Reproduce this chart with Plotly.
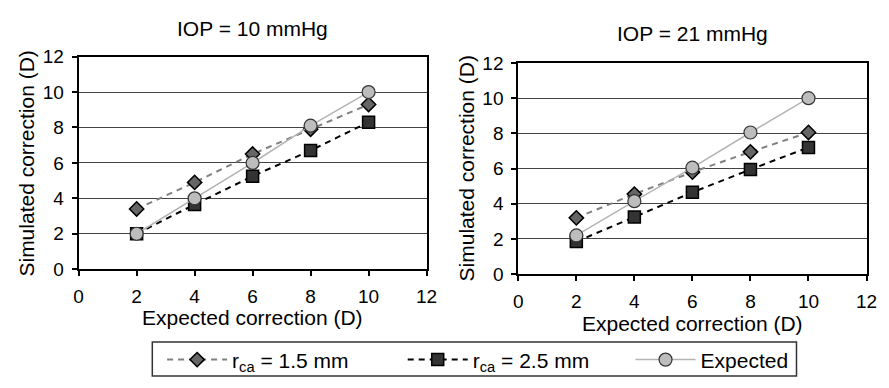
import plotly.graph_objects as go

W, H = 889, 388

expected_x = [2, 4, 6, 8, 10]
left_r15 = [3.4, 4.9, 6.5, 7.9, 9.3]
left_r25 = [2.0, 3.65, 5.25, 6.7, 8.3]
left_exp = [2.0, 4.0, 6.0, 8.1, 10.0]
right_r15 = [3.2, 4.55, 5.8, 6.95, 8.05]
right_r25 = [1.85, 3.25, 4.65, 5.95, 7.2]
right_exp = [2.2, 4.15, 6.05, 8.05, 10.0]
tick_vals = [0, 2, 4, 6, 8, 10, 12]
titles = ["IOP = 10 mmHg", "IOP = 21 mmHg"]
names = ["r<sub>ca</sub> = 1.5 mm", "r<sub>ca</sub> = 2.5 mm", "Expected"]

FONT = "Liberation Sans, Arial, Helvetica, sans-serif"
FS_TICK = 19
FS_TEXT = 21

def px_x(p):
    return p / W

def px_y(p):
    return 1 - p / H

fig = go.Figure()

styles = [
    dict(line=dict(color="#808080", width=2, dash="6px,5px"),
         marker=dict(symbol="diamond", size=11, color="#666666",
                     line=dict(color="black", width=1.5))),
    dict(line=dict(color="black", width=2, dash="6px,5px"),
         marker=dict(symbol="square", size=12, color="#333333",
                     line=dict(color="black", width=1.5))),
    dict(line=dict(color="#b4b4b4", width=1.5),
         marker=dict(symbol="circle", size=13, color="#bdbdbd",
                     line=dict(color="#333333", width=1.2))),
]
legend_ids = ["legend", "legend2", "legend3"]

panels = [(left_r15, left_r25, left_exp), (right_r15, right_r25, right_exp)]
for pi, series in enumerate(panels):
    xa = "x" if pi == 0 else "x2"
    ya = "y" if pi == 0 else "y2"
    for si, ys in enumerate(series):
        fig.add_trace(go.Scatter(
            x=expected_x, y=ys, mode="lines+markers", name=names[si],
            showlegend=(pi == 0), legend=legend_ids[si],
            xaxis=xa, yaxis=ya, **styles[si]))

axis_common = dict(
    range=[0, 12], tickvals=tick_vals, ticks="outside", ticklen=5,
    tickwidth=1.5, tickcolor="black", showline=True, linecolor="black",
    linewidth=2, mirror=True, zeroline=False, ticklabelstandoff=4,
    tickfont=dict(family=FONT, size=FS_TICK, color="black"),
)

# plot rectangles (pixels)
L = dict(x0=75, x1=429.3, y0=49.3, y1=274)
R = dict(x0=522.7, x1=877.3, y0=56, y1=279.3)

def leg(xpix):
    return dict(
        orientation="h", x=px_x(xpix), y=px_y(370), xanchor="left",
        yanchor="middle", borderwidth=0, bgcolor="rgba(0,0,0,0)",
        font=dict(family=FONT, size=FS_TEXT, color="black"), itemwidth=60,
    )

fig.update_layout(
    width=W, height=H,
    margin=dict(l=0, r=0, t=0, b=0),
    paper_bgcolor="white", plot_bgcolor="white",
    font=dict(family=FONT, size=FS_TEXT, color="black"),
    xaxis=dict(domain=[px_x(L["x0"]), px_x(L["x1"])], anchor="y",
               showgrid=False, **axis_common),
    yaxis=dict(domain=[px_y(L["y1"]), px_y(L["y0"])], anchor="x",
               showgrid=True, gridcolor="#444444", gridwidth=1, **axis_common),
    xaxis2=dict(domain=[px_x(R["x0"]), px_x(R["x1"])], anchor="y2",
                showgrid=False, **axis_common),
    yaxis2=dict(domain=[px_y(R["y1"]), px_y(R["y0"])], anchor="x2",
                showgrid=True, gridcolor="#444444", gridwidth=1, **axis_common),
    legend=leg(160),
    legend2=leg(405),
    legend3=leg(637),
)

fig.add_shape(type="rect", xref="paper", yref="paper",
              x0=px_x(150), x1=px_x(806), y0=px_y(387), y1=px_y(351),
              line=dict(color="#333333", width=1.5), fillcolor="rgba(0,0,0,0)",
              layer="below")

annots = [
    dict(text=titles[0], x=px_x(252), y=px_y(20)),
    dict(text=titles[1], x=px_x(700), y=px_y(25)),
    dict(text="Expected correction (D)", x=px_x(252), y=px_y(325)),
    dict(text="Expected correction (D)", x=px_x(700), y=px_y(331)),
    dict(text="Simulated correction (D)", x=px_x(21.7), y=px_y(162), textangle=-90),
    dict(text="Simulated correction (D)", x=px_x(470), y=px_y(168), textangle=-90),
]
for a in annots:
    fig.add_annotation(xref="paper", yref="paper", showarrow=False,
                       xanchor="center", yanchor="middle",
                       font=dict(family=FONT, size=FS_TEXT, color="black"), **a)

fig.write_html("out.html")
